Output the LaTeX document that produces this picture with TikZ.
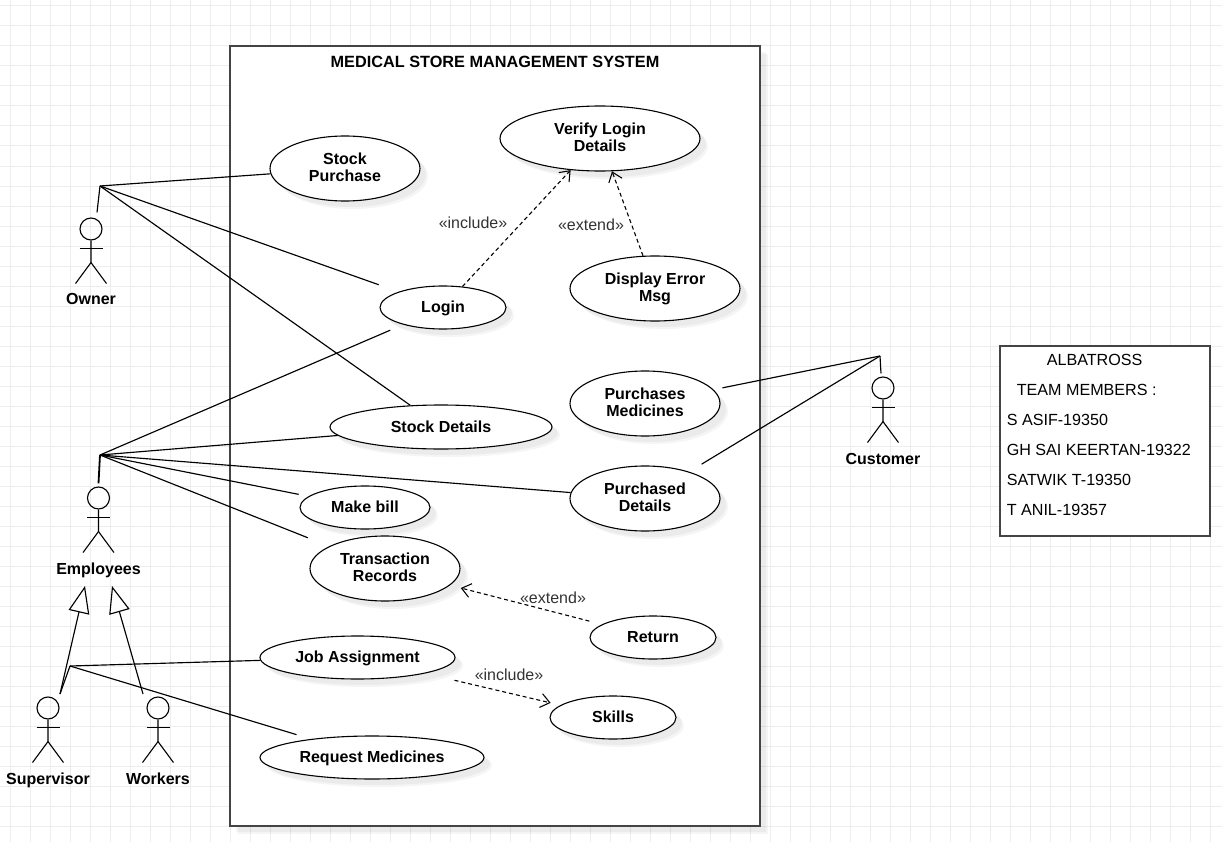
\documentclass[tikz,border=0pt]{standalone}
\usepackage{fontspec}
\setmainfont{Liberation Sans}
\usetikzlibrary{shapes.geometric,arrows.meta,shadows,calc}
\newdimen\ux \ux=0.75pt
\definecolor{gridc}{HTML}{EDEDED}
\definecolor{boxc}{HTML}{444444}
\definecolor{labc}{HTML}{333333}
\tikzset{
  softshadow/.style={drop shadow={fill=black,opacity=.04,shadow xshift=8\ux,shadow yshift=-8\ux},
                     drop shadow={fill=black,opacity=.04,shadow xshift=6\ux,shadow yshift=-6\ux}},
  usecase/.style={ellipse,draw=black,line width=1.1\ux,fill=white,inner sep=0pt,align=center,
    softshadow,font=\fontsize{12}{12.75}\selectfont\bfseries,
    execute at begin node={\rule{0pt}{9.4pt}},execute at end node={\rule[-2.6pt]{0pt}{2.6pt}}},
  twoline/.style={execute at begin node={\rule{0pt}{10.9pt}}},
  frame/.style={rectangle,draw=boxc,line width=1.4\ux,fill=white,inner sep=0pt},
  link/.style={draw=black,line width=1.15\ux},
  dep/.style={draw=black,line width=1.1\ux,dash pattern=on 4\ux off 3\ux,
    -{Straight Barb[length=6.75pt,width=10.5pt,line width=.8pt]}},
  stereo/.style={text=labc,inner sep=0pt,font=\fontsize{12}{14}\selectfont},
  actorname/.style={inner sep=0pt,anchor=base,font=\fontsize{12}{14}\selectfont\bfseries},
  head/.style={circle,draw=black,line width=1.1\ux,minimum size=22\ux,inner sep=0pt},
  gen/.style={draw=black,line width=1.15\ux,-{Triangle[open,length=20.25pt,width=15.75pt,line width=.85pt,fill=white]}},
  limb/.style={draw=black,line width=1.1\ux},
}
\newcommand{\stick}[2]{%
  \node[head] (#2) at (#1) {};
  \draw[limb] (#2.south) -- ++(0,22) coordinate (#2hip) -- ++(-15.5,21) coordinate (#2l);
  \draw[limb] (#2hip) -- ++(15.5,21) coordinate (#2r);
  \draw[limb] ($(#2.south)+(-11.5,8)$) -- ++(23,0);
}
\begin{document}
\begin{tikzpicture}[x=0.75pt,y=-0.75pt]
\useasboundingbox (0,0) rectangle (1222,842);
\foreach \gx in {10,30,...,1210} \draw[gridc,line width=1\ux] (\gx,0) -- (\gx,842);
\foreach \gy in {6,26,...,826} \draw[gridc,line width=1\ux] (0,\gy) -- (1222,\gy);

% system boundary
\node[frame,softshadow,minimum width=530\ux,minimum height=780\ux] (sys) at (495,436) {};
\node[inner sep=0pt,font=\fontsize{12.2}{14}\selectfont\bfseries] (title) at (495,61.5) {MEDICAL STORE MANAGEMENT SYSTEM};

% use cases
\node[usecase,twoline,minimum width=150\ux,minimum height=65\ux] (sp) at (345,168.5) {Stock\\Purchase};
\node[usecase,twoline,minimum width=200\ux,minimum height=65\ux] (vl) at (600,138.5) {Verify Login\\Details};
\node[usecase,minimum width=126\ux,minimum height=43\ux] (login) at (443,307.5) {Login};
\node[usecase,twoline,minimum width=170\ux,minimum height=65\ux] (err) at (655,288.5) {Display Error\\Msg};
\node[usecase,twoline,minimum width=150\ux,minimum height=65\ux] (pm) at (645,403.5) {Purchases\\Medicines};
\node[usecase,twoline,minimum width=222\ux,minimum height=44\ux] (sd) at (441,427) {Stock Details};
\node[usecase,twoline,minimum width=150\ux,minimum height=65\ux] (pd) at (645,498.5) {Purchased\\Details};
\node[usecase,minimum width=130\ux,minimum height=43\ux] (mb) at (365,507.5) {Make bill};
\node[usecase,twoline,minimum width=150\ux,minimum height=65\ux] (tr) at (385,568.5) {Transaction\\Records};
\node[usecase,minimum width=126\ux,minimum height=43\ux] (ret) at (653,637.5) {Return};
\node[usecase,minimum width=195\ux,minimum height=43\ux] (job) at (357.5,657.5) {Job Assignment};
\node[usecase,minimum width=126\ux,minimum height=43\ux] (sk) at (613,717.5) {Skills};
\node[usecase,minimum width=224\ux,minimum height=43\ux] (req) at (372,757.5) {Request Medicines};

% actors
\stick{91,229}{owner}
\stick{98.5,498}{emp}
\stick{48,708}{sup}
\stick{158,708}{wrk}
\stick{883,388}{cust}
\node[actorname] (ownerlab) at (91,304.5) {Owner};
\node[actorname] (emplab) at (98.5,574.5) {Employees};
\node[actorname] (suplab) at (48,784.5) {Supervisor};
\node[actorname] (wrklab) at (158,784.5) {Workers};
\node[actorname] (custlab) at (883,464.5) {Customer};

% connector hubs
\coordinate (ownerhub) at (100,186);
\coordinate (emphub) at (100,455);
\coordinate (suphub) at (70,666);
\coordinate (custhub) at (880,356);
\coordinate (supfoot) at (60,694);
\coordinate (wrkfoot) at (143,694);
\coordinate (gentipa) at (85,586);
\coordinate (gentipb) at (112,586);

% associations
\draw[link] (ownerhub) -- ($(owner.north)+(6,-5)$);
\draw[link] (ownerhub) -- (sp);
\draw[link,shorten >=21\ux] (ownerhub) -- (login);
\draw[link] (ownerhub) -- (sd);
\draw[link,line width=1.8\ux] (emphub) -- ($(emp.north)+(0,-3)$);
\draw[link,shorten >=14\ux] (emphub) -- (login);
\draw[link] (emphub) -- (sd);
\draw[link,shorten >=10\ux] (emphub) -- (mb);
\draw[link,shorten >=23\ux] (emphub) -- (tr);
\draw[link] (emphub) -- (pd);
\draw[link,shorten >=9\ux] (custhub) -- (pm);
\draw[link,shorten >=14.5\ux] (custhub) -- (pd);
\draw[link] (custhub) -- ($(cust.north)+(-2,-3)$);
\draw[link] (suphub) -- (supfoot);
\draw[link] (suphub) -- (job);
\draw[link,shorten >=15\ux] (suphub) -- (req);
\draw[gen] (supfoot) -- (gentipa);
\draw[gen] (wrkfoot) -- (gentipb);

% dependencies
\draw[dep] (login) -- (vl);
\draw[dep] (err) -- (vl);
\draw[dep,shorten <=13\ux,shorten >=11\ux] (ret) -- (tr);
\draw[dep,shorten <=30\ux,shorten >=10\ux] (job) -- (sk);
\node[stereo] (inc1) at (473,223) {«include»};
\node[stereo] (ext1) at (591,225) {«extend»};
\node[stereo] (ext2) at (553,598) {«extend»};
\node[stereo] (inc2) at (509,675) {«include»};

% team box
\node[frame,minimum width=210\ux,minimum height=190\ux] (team) at (1105,441) {};
\node[anchor=north west,inner sep=0pt,align=left,font=\fontsize{12.1}{22.5}\selectfont] (members) at (1006.5,353.5)
 {\hspace*{40\ux}ALBATROSS\\ \hspace*{10\ux}TEAM MEMBERS :\\S ASIF-19350\\GH SAI KEERTAN-19322\\SATWIK T-19350\\T ANIL-19357};
\end{tikzpicture}
\end{document}
